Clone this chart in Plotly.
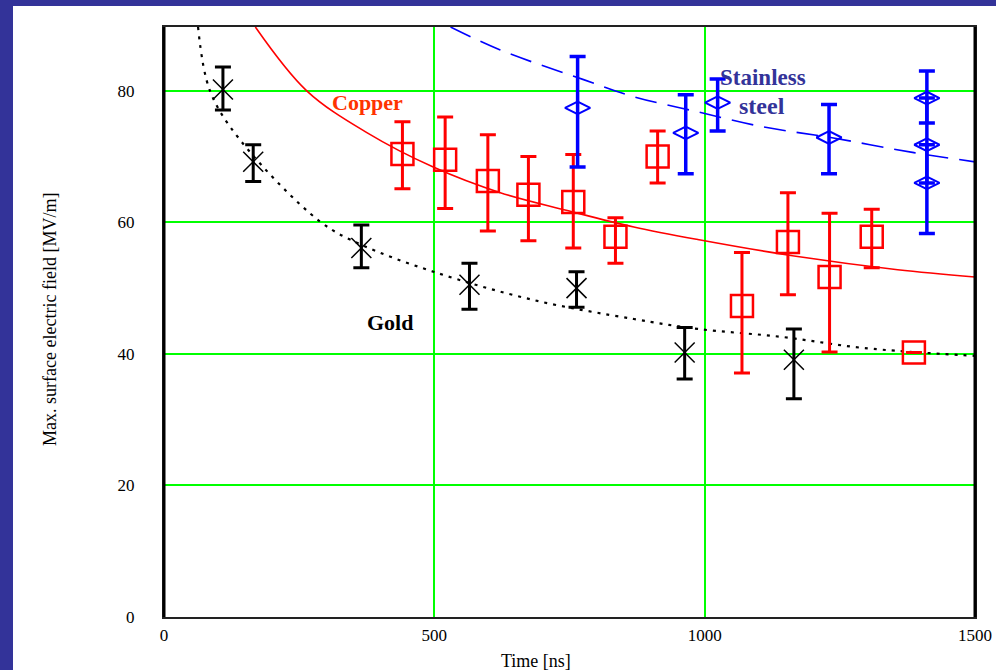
import plotly.graph_objects as go

# ---- data ----
gold_t = [109, 165, 365, 565, 763, 963, 1165]
gold_e = [80.2, 69.2, 56.1, 50.5, 50.0, 40.2, 39.1]
gold_hi = [83.6, 71.8, 59.6, 53.8, 52.5, 44.0, 43.8]
gold_lo = [77.1, 66.2, 53.1, 46.8, 47.1, 36.2, 33.2]

copper_t = [441, 520, 599, 674, 757, 835, 913, 1069, 1154, 1231, 1309, 1387]
copper_e = [70.4, 69.5, 66.3, 64.2, 63.1, 57.8, 70.0, 47.3, 57.0, 51.7, 57.8, 40.2]
copper_hi = [75.3, 76.0, 73.3, 70.0, 70.3, 60.7, 73.9, 55.4, 64.5, 61.4, 62.0, 40.2]
copper_lo = [65.1, 62.1, 58.7, 57.2, 56.1, 53.8, 66.0, 37.1, 49.0, 40.3, 53.1, 40.2]

steel_t = [765, 965, 1024, 1230, 1411, 1411, 1411]
steel_e = [77.4, 73.6, 78.2, 72.9, 78.9, 71.8, 66.0]
steel_hi = [85.2, 79.4, 81.8, 77.9, 83.0, 78.9, 71.8]
steel_lo = [68.4, 67.4, 73.9, 67.4, 75.1, 66.0, 58.3]

gold_fit_t = [63, 85, 141, 289, 365, 498, 683, 869, 987, 1141, 1294, 1500]
gold_fit_e = [89.7, 80.0, 72.5, 60.1, 56.6, 52.5, 48.2, 45.3, 43.8, 42.6, 40.9, 39.7]

copper_fit_t = [169, 264, 376, 498, 622, 746, 869, 987, 1172, 1357, 1500]
copper_fit_e = [89.7, 80.0, 73.6, 68.4, 64.5, 61.8, 59.3, 57.4, 54.8, 52.8, 51.7]

steel_fit_t = [530, 622, 776, 869, 987, 1109, 1233, 1387, 1500]
steel_fit_e = [89.7, 86.2, 81.7, 79.1, 76.8, 74.5, 72.9, 70.6, 69.2]

x_ticks = [0, 500, 1000, 1500]
y_ticks = [0, 20, 40, 60, 80]

SERIF = "Liberation Serif"


def err(vals, hi, lo):
    plus = [h - v for v, h in zip(vals, hi)]
    minus = [v - l for v, l in zip(vals, lo)]
    return plus, minus


fig = go.Figure()

# fitted curves
fig.add_trace(go.Scatter(x=gold_fit_t, y=gold_fit_e, mode="lines", line_shape="spline",
                         line=dict(color="black", width=2.2, dash="3px,6px"), hoverinfo="skip"))
fig.add_trace(go.Scatter(x=copper_fit_t, y=copper_fit_e, mode="lines", line_shape="spline",
                         line=dict(color="#ff0000", width=1.6), hoverinfo="skip"))
fig.add_trace(go.Scatter(x=steel_fit_t, y=steel_fit_e, mode="lines", line_shape="spline",
                         line=dict(color="#0000ff", width=1.6, dash="22px,11px"), hoverinfo="skip"))

# data with error bars
p, m = err(copper_e, copper_hi, copper_lo)
fig.add_trace(go.Scatter(x=copper_t, y=copper_e, mode="markers",
                         marker=dict(symbol="square-open", size=22, color="#ff0000",
                                     line=dict(color="#ff0000", width=2.5)),
                         error_y=dict(type="data", symmetric=False, array=p, arrayminus=m,
                                      color="#ff0000", thickness=3, width=8)))
p, m = err(steel_e, steel_hi, steel_lo)
fig.add_trace(go.Scatter(x=steel_t, y=steel_e, mode="markers",
                         marker=dict(symbol="diamond-wide-open", size=18, color="#0000ff",
                                     line=dict(color="#0000ff", width=2)),
                         error_y=dict(type="data", symmetric=False, array=p, arrayminus=m,
                                      color="#0000ff", thickness=3.5, width=8)))
p, m = err(gold_e, gold_hi, gold_lo)
fig.add_trace(go.Scatter(x=gold_t, y=gold_e, mode="markers",
                         marker=dict(symbol="x-thin-open", size=20, color="black",
                                     line=dict(color="black", width=1.5)),
                         error_y=dict(type="data", symmetric=False, array=p, arrayminus=m,
                                      color="black", thickness=3, width=8)))

W_FIG, H_FIG = 996, 670
L, T, R, B = 164, 27, 21, 53
W, H = W_FIG - L - R, H_FIG - T - B

ann = [
    ("<b>Copper</b>", 367, 103, "#ff3300", 22),
    ("<b>Gold</b>", 390, 322, "black", 22),
    ("<b>Stainless</b>", 763, 78, "#333399", 23),
    ("<b>steel</b>", 762, 106, "#333399", 24),
]
for txt, px, py, col, sz in ann:
    fig.add_annotation(x=(px - L) / W, y=1 - (py - T) / H, xref="paper", yref="paper",
                       text=txt, showarrow=False, xanchor="center", yanchor="middle",
                       font=dict(family=SERIF, size=sz, color=col))

fig.add_annotation(x=(536 - L) / W, y=1 - (661 - T) / H, xref="paper", yref="paper",
                   text="Time [ns]", showarrow=False, xanchor="center", yanchor="middle",
                   font=dict(family=SERIF, size=18, color="black"))
fig.add_annotation(x=(50 - L) / W, y=1 - (320 - T) / H, xref="paper", yref="paper",
                   text="Max. surface electric field [MV/m]", showarrow=False, textangle=-90,
                   xanchor="center", yanchor="middle",
                   font=dict(family=SERIF, size=18, color="black"))

# white panel on the blue background
fig.add_shape(type="rect", xref="paper", yref="paper", layer="below",
              x0=(13 - L) / W, x1=(1000 - L) / W, y0=-0.25, y1=1 - (6 - T) / H,
              fillcolor="white", line=dict(width=0))
# thicker left/right border
fig.add_shape(type="line", xref="paper", yref="paper", x0=0, x1=0, y0=0, y1=1,
              line=dict(color="black", width=3))
fig.add_shape(type="line", xref="paper", yref="paper", x0=1, x1=1, y0=0, y1=1,
              line=dict(color="black", width=3))

fig.update_layout(
    width=W_FIG, height=H_FIG, autosize=False,
    margin=dict(l=L, r=R, t=T, b=B, pad=0),
    paper_bgcolor="#333399",
    plot_bgcolor="white",
    showlegend=False,
    font=dict(family=SERIF, size=17, color="black"),
    xaxis=dict(range=[0, 1500], tickvals=x_ticks, ticktext=[str(v) for v in x_ticks],
               automargin=False,
               showgrid=True, gridcolor="#00ff00", gridwidth=1.5, zeroline=False,
               showline=True, mirror=True, linecolor="#222222", linewidth=2,
               ticks="", ticklabelstandoff=2, tickfont=dict(family=SERIF, size=17)),
    yaxis=dict(range=[0, 89.7], tickvals=y_ticks, ticktext=[str(v) for v in y_ticks],
               automargin=False,
               showgrid=True, gridcolor="#00ff00", gridwidth=1.5, zeroline=False,
               showline=True, mirror=True, linecolor="#222222", linewidth=2,
               ticks="", ticklabelstandoff=24, tickfont=dict(family=SERIF, size=17)),
)

fig.write_html("out.html", config={"responsive": False})
